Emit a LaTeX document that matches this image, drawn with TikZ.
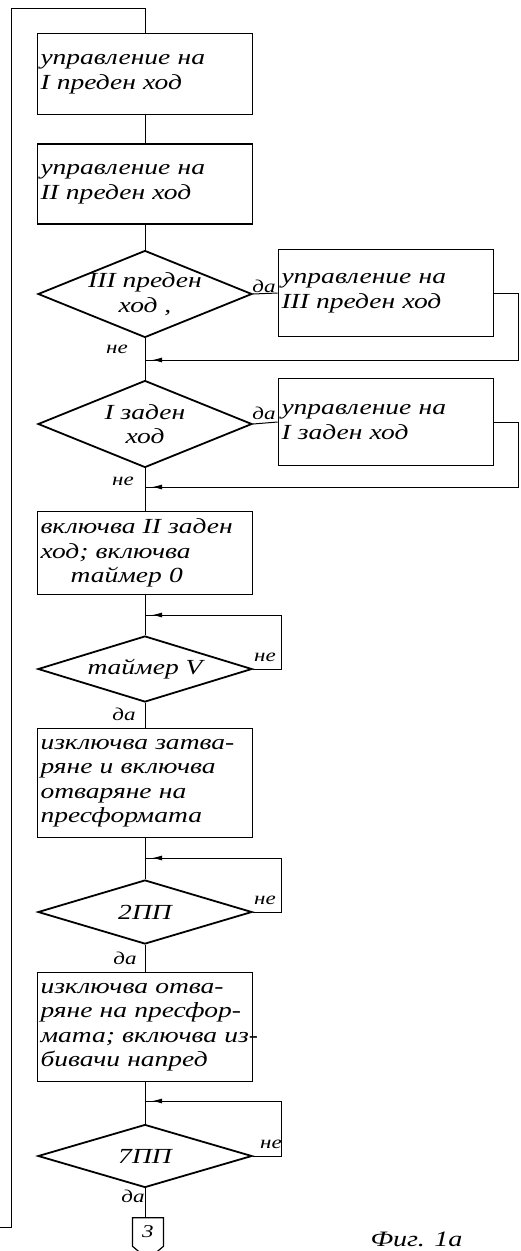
\documentclass[tikz,border=0pt]{standalone}
\usepackage{fontspec}
\newfontfamily\ruka[FakeStretch=1.28]{Liberation Serif}
\usetikzlibrary{shapes.geometric}
\usetikzlibrary{shapes.symbols}
\usetikzlibrary{arrows.meta}
\usetikzlibrary{decorations.markings}
\newcommand{\rtxt}{\ruka\itshape\fontsize{21.5}{24.5}\selectfont}

\begin{document}
\begin{tikzpicture}[x=1pt, y=-1pt, line width=1pt,
  blok/.style={draw, line width=1.8pt, minimum width=215pt, text width=209pt, inner sep=3pt, align=left, font=\rtxt},
  romb/.style={draw, diamond, line width=1.8pt, inner sep=0pt, minimum width=214pt},
  rtekst/.style={align=center, inner sep=0pt, font=\rtxt},
  oznaka/.style={inner sep=1pt, font=\ruka\itshape\fontsize{18}{18}\selectfont},
  vrashtane/.style={postaction={decorate}, decoration={markings,
    mark=at position -7pt with {\arrow{Latex[length=10pt,width=5pt]}}}}]
  \useasboundingbox (0,0) rectangle (520,1251);
  \clip (0,0) rectangle (520,1251);

  \node[blok, minimum height=81pt] (n1) at (145,74) {управление на\\I преден ход};
  \node[blok, minimum height=80pt] (n2) at (145,184) {управление на\\II преден ход};
  \node[romb, minimum height=87pt] (d1) at (145,294) {};
  \node[rtekst] (d1t) at (d1) {III преден\\ход ,};
  \node[blok, minimum height=87pt] (n3) at (386,293) {управление на\\III преден ход};
  \coordinate (s1) at (145,360);
  \node[romb, minimum height=87pt] (d2) at (145,424) {};
  \node[rtekst] (d2t) at (d2) {I заден\\ход};
  \node[blok, minimum height=87pt] (n4) at (386,422) {управление на\\I заден ход};
  \coordinate (s2) at (145,487);
  \node[blok, minimum height=83pt] (n5) at (145,553) {\mbox{включва II заден}\\ход; включва\\\hspace*{1.4em}таймер 0};
  \coordinate (s3) at (145,615);
  \node[romb, minimum height=66pt] (d3) at (145,669) {};
  \node[rtekst] (d3t) at (d3) {таймер V};
  \node[blok, minimum height=109pt] (n6) at (145,783) {\mbox{изключва затва-}\\\mbox{ряне и включва}\\отваряне на\\пресформата};
  \coordinate (s4) at (145,858);
  \node[romb, minimum height=64pt] (d4) at (145,912) {};
  \node[rtekst] (d4t) at (d4) {2ПП};
  \node[blok, minimum height=109pt] (n7) at (145,1027) {\mbox{изключва отва-}\\\mbox{ряне на пресфор-}\\\mbox{мата; включва из-}\\бивачи напред};
  \coordinate (s5) at (145,1101);
  \node[romb, minimum height=63pt] (d5) at (145,1156) {};
  \node[rtekst] (d5t) at (d5) {7ПП};
  \node[signal, signal to=south, signal pointer angle=100, draw, line width=1.2pt,
    minimum width=31pt, minimum height=35pt, inner sep=2pt,
    font=\ruka\itshape\fontsize{18}{18}\selectfont] (k3) at (148,1232) {3};

  \foreach \from/\to in {n1/n2, n2/d1, d1/d2, d2/n5, n5/d3, d3/n6, n6/d4, d4/n7, n7/d5}
    \draw (\from.south) -- (\to.north);
  \draw (d5.south) -- (d5.south |- k3.north);
  \draw (d1.east) -- (n3.west);
  \draw (d2.east) -- (n4.west);
  \draw[vrashtane] (n3.east) -- (518,293) |- (s1);
  \draw[vrashtane] (n4.east) -- (518,422) |- (s2);
  \draw[vrashtane] (d3.east) -- ++(29,0) |- (s3);
  \draw[vrashtane] (d4.east) -- ++(29,0) |- (s4);
  \draw[vrashtane] (d5.east) -- ++(29,0) |- (s5);
  % vrashtane kam nachaloto
  \coordinate (vhod) at (0,1227);
  \draw (vhod) -- (11,1227) -- (11,8) -| (n1.north);

  \node[oznaka] (da1) at (264,286) {да};
  \node[oznaka] (ne1) at (117,349) {не};
  \node[oznaka] (da2) at (264,413) {да};
  \node[oznaka] (ne2) at (123,481) {не};
  \node[oznaka] (ne3) at (265,657) {не};
  \node[oznaka] (da3) at (124,714) {да};
  \node[oznaka] (ne4) at (265,900) {не};
  \node[oznaka] (da4) at (125,958) {да};
  \node[oznaka] (ne5) at (271,1144) {не};
  \node[oznaka] (da5) at (133,1196) {да};
  \node[anchor=south west, inner sep=0pt, font=\ruka\itshape\fontsize{22}{22}\selectfont] (fig) at (370,1247) {Фиг. 1а};
\end{tikzpicture}
\end{document}
